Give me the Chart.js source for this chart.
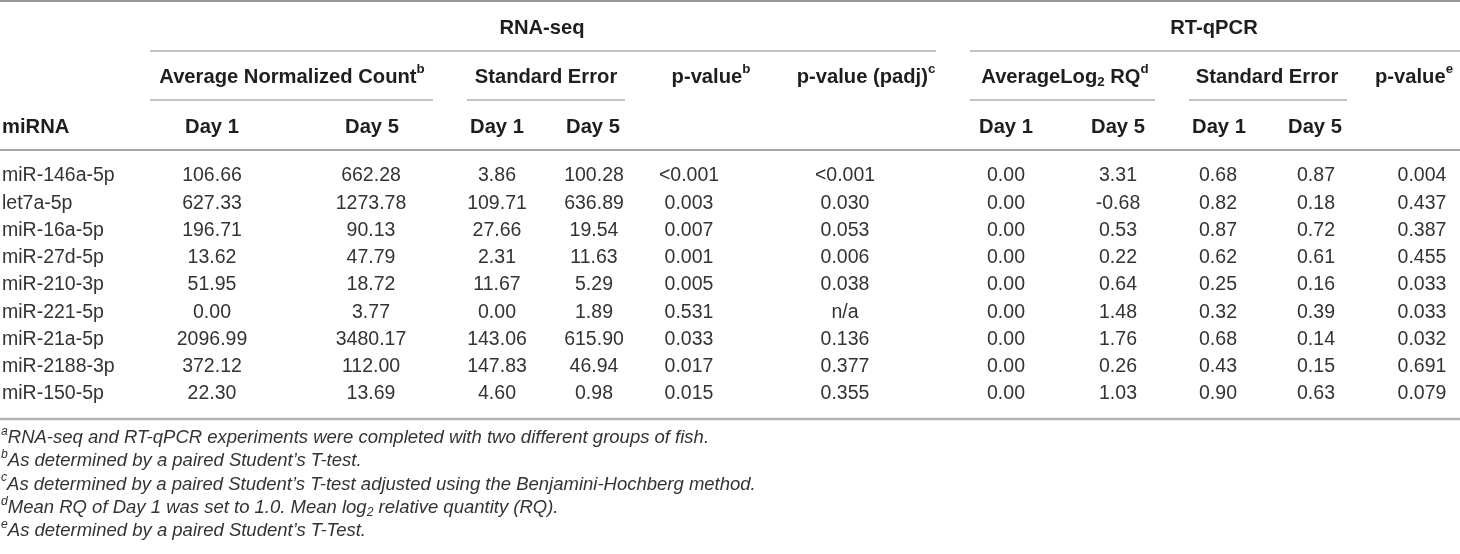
<!DOCTYPE html>
<html>
<head>
<meta charset="utf-8">
<script src="https://cdn.jsdelivr.net/npm/chart.js@4.4.1/dist/chart.umd.min.js"></script>
<style>
  html, body { margin: 0; padding: 0; background: #fff; }
  #wrap { width: 1460px; height: 554px; }
</style>
</head>
<body>
<div id="wrap"><canvas id="tbl"></canvas></div>
<script>
// table values, one array per column
const miRNA = ["miR-146a-5p", "let7a-5p", "miR-16a-5p", "miR-27d-5p", "miR-210-3p",
  "miR-221-5p", "miR-21a-5p", "miR-2188-3p", "miR-150-5p"];
const seqDay1 = [106.66, 627.33, 196.71, 13.62, 51.95, 0.00, 2096.99, 372.12, 22.30];
const seqDay5 = [662.28, 1273.78, 90.13, 47.79, 18.72, 3.77, 3480.17, 112.00, 13.69];
const seqSeDay1 = [3.86, 109.71, 27.66, 2.31, 11.67, 0.00, 143.06, 147.83, 4.60];
const seqSeDay5 = [100.28, 636.89, 19.54, 11.63, 5.29, 1.89, 615.90, 46.94, 0.98];
const seqP = ["<0.001", "0.003", "0.007", "0.001", "0.005", "0.531", "0.033", "0.017", "0.015"];
const seqPadj = ["<0.001", "0.030", "0.053", "0.006", "0.038", "n/a", "0.136", "0.377", "0.355"];
const qDay1 = [0.00, 0.00, 0.00, 0.00, 0.00, 0.00, 0.00, 0.00, 0.00];
const qDay5 = [3.31, -0.68, 0.53, 0.22, 0.64, 1.48, 1.76, 0.26, 1.03];
const qSeDay1 = [0.68, 0.82, 0.87, 0.62, 0.25, 0.32, 0.68, 0.43, 0.90];
const qSeDay5 = [0.87, 0.18, 0.72, 0.61, 0.16, 0.39, 0.14, 0.15, 0.63];
const qP = ["0.004", "0.437", "0.387", "0.455", "0.033", "0.033", "0.032", "0.691", "0.079"];

const groupLabels = ["RNA-seq", "RT-qPCR"];
const footnotes = [
  [{ t: "a", sup: true }, { t: "RNA-seq and RT-qPCR experiments were completed with two different groups of fish." }],
  [{ t: "b", sup: true }, { t: "As determined by a paired Student\u2019s T-test." }],
  [{ t: "c", sup: true }, { t: "As determined by a paired Student\u2019s T-test adjusted using the Benjamini-Hochberg method." }],
  [{ t: "d", sup: true }, { t: "Mean RQ of Day 1 was set to 1.0. Mean log" }, { t: "2", sub: true }, { t: " relative quantity (RQ)." }],
  [{ t: "e", sup: true }, { t: "As determined by a paired Student\u2019s T-Test." }]
];

// layout
const FONT = "'Liberation Sans', Arial, sans-serif";
const BODY_SIZE = 19.5;
const HEAD_SIZE = 20.2;
const FOOT_SIZE = 18.5;
const ROW_TOP = 176;
const ROW_STEP = 27.25;
const FOOT_TOP = 438;
const FOOT_STEP = 23.3;
const fix2 = v => v.toFixed(2);
const asIs = v => v;

const columns = [
  { values: miRNA, x: 2, align: "left", fmt: asIs },
  { values: seqDay1, x: 212, fmt: fix2 },
  { values: seqDay5, x: 371, fmt: fix2 },
  { values: seqSeDay1, x: 497, fmt: fix2 },
  { values: seqSeDay5, x: 594, fmt: fix2 },
  { values: seqP, x: 689, fmt: asIs },
  { values: seqPadj, x: 845, fmt: asIs },
  { values: qDay1, x: 1006, fmt: fix2 },
  { values: qDay5, x: 1118, fmt: fix2 },
  { values: qSeDay1, x: 1218, fmt: fix2 },
  { values: qSeDay5, x: 1316, fmt: fix2 },
  { values: qP, x: 1422, fmt: asIs }
];

const headerRows = [
  { y: 28, cells: [
    { x: 542, parts: [{ t: groupLabels[0] }] },
    { x: 1214, parts: [{ t: groupLabels[1] }] }
  ] },
  { y: 77, cells: [
    { x: 292, parts: [{ t: "Average Normalized Count" }, { t: "b", sup: true }] },
    { x: 546, parts: [{ t: "Standard Error" }] },
    { x: 711, parts: [{ t: "p-value" }, { t: "b", sup: true }] },
    { x: 866, parts: [{ t: "p-value (padj)" }, { t: "c", sup: true }] },
    { x: 1065, parts: [{ t: "AverageLog" }, { t: "2", sub: true }, { t: " RQ" }, { t: "d", sup: true }] },
    { x: 1267, parts: [{ t: "Standard Error" }] },
    { x: 1414, parts: [{ t: "p-value" }, { t: "e", sup: true }] }
  ] },
  { y: 127, cells: [
    { x: 2, align: "left", parts: [{ t: "miRNA" }] },
    { x: 212, parts: [{ t: "Day 1" }] }, { x: 372, parts: [{ t: "Day 5" }] },
    { x: 497, parts: [{ t: "Day 1" }] }, { x: 593, parts: [{ t: "Day 5" }] },
    { x: 1006, parts: [{ t: "Day 1" }] }, { x: 1118, parts: [{ t: "Day 5" }] },
    { x: 1219, parts: [{ t: "Day 1" }] }, { x: 1315, parts: [{ t: "Day 5" }] }
  ] }
];

const rules = [
  { y: 1, x0: 0, x1: 1460, w: 2, c: "#9a9a9a" },
  { y: 51, x0: 150, x1: 936, w: 1.5, c: "#b0b0b0" },
  { y: 51, x0: 970, x1: 1460, w: 1.5, c: "#b0b0b0" },
  { y: 100, x0: 150, x1: 433, w: 1.5, c: "#b0b0b0" },
  { y: 100, x0: 467, x1: 625, w: 1.5, c: "#b0b0b0" },
  { y: 100, x0: 970, x1: 1155, w: 1.5, c: "#b0b0b0" },
  { y: 100, x0: 1189, x1: 1347, w: 1.5, c: "#b0b0b0" },
  { y: 150, x0: 0, x1: 1460, w: 2, c: "#a8a8a8" },
  { y: 419, x0: 0, x1: 1460, w: 2.5, c: "#b0b0b0" }
];

// draw text made of plain / superscript / subscript pieces
function richText(ctx, parts, x, y, align, weight, style, size) {
  const font = (sz) => style + " " + weight + " " + sz + "px " + FONT;
  const small = size * 0.66;
  let total = 0;
  const widths = parts.map(p => {
    ctx.font = font(p.sup || p.sub ? small : size);
    const w = ctx.measureText(p.t).width;
    total += w;
    return w;
  });
  let cx = align === "left" ? x : x - total / 2;
  parts.forEach((p, i) => {
    ctx.font = font(p.sup || p.sub ? small : size);
    let dy = 0;
    if (p.sup) dy = -size * 0.36;
    if (p.sub) dy = size * 0.24;
    ctx.fillText(p.t, cx, y + dy);
    cx += widths[i];
  });
}

const tablePlugin = {
  id: "tablePlugin",
  afterDatasetsDraw(chart) {
    const ctx = chart.ctx;
    const xs = chart.scales.x;
    const ys = chart.scales.y;
    ctx.save();
    ctx.textBaseline = "middle";
    ctx.textAlign = "left";

    rules.forEach(r => {
      ctx.strokeStyle = r.c;
      ctx.lineWidth = r.w;
      ctx.beginPath();
      ctx.moveTo(xs.getPixelForValue(r.x0), ys.getPixelForValue(r.y));
      ctx.lineTo(xs.getPixelForValue(r.x1), ys.getPixelForValue(r.y));
      ctx.stroke();
    });

    ctx.fillStyle = "#1e1e1e";
    headerRows.forEach(row => {
      row.cells.forEach(cell => {
        richText(ctx, cell.parts, xs.getPixelForValue(cell.x), ys.getPixelForValue(row.y),
          cell.align || "center", "bold", "normal", HEAD_SIZE);
      });
    });

    ctx.fillStyle = "#333333";
    chart.data.datasets.forEach((ds, di) => {
      const meta = chart.getDatasetMeta(di);
      meta.data.forEach((pt, i) => {
        richText(ctx, [{ t: ds.labels[i] }], pt.x, pt.y, ds.align, "normal", "normal", BODY_SIZE);
      });
    });

    footnotes.forEach((parts, i) => {
      richText(ctx, parts, xs.getPixelForValue(1), ys.getPixelForValue(FOOT_TOP + i * FOOT_STEP),
        "left", "normal", "italic", FOOT_SIZE);
    });
    ctx.restore();
  }
};

const datasets = columns.map(col => ({
  data: col.values.map((v, i) => ({ x: col.x, y: ROW_TOP + i * ROW_STEP })),
  labels: col.values.map(col.fmt),
  align: col.align || "center",
  pointRadius: 0,
  showLine: false
}));

new Chart(document.getElementById("tbl"), {
  type: "scatter",
  data: { datasets },
  options: {
    responsive: true,
    maintainAspectRatio: false,
    animation: false,
    layout: { padding: 0 },
    plugins: { legend: { display: false }, tooltip: { enabled: false } },
    scales: {
      x: { type: "linear", min: 0, max: 1460, display: false },
      y: { type: "linear", min: 0, max: 554, reverse: true, display: false }
    }
  },
  plugins: [tablePlugin]
});
</script>
</body>
</html>
